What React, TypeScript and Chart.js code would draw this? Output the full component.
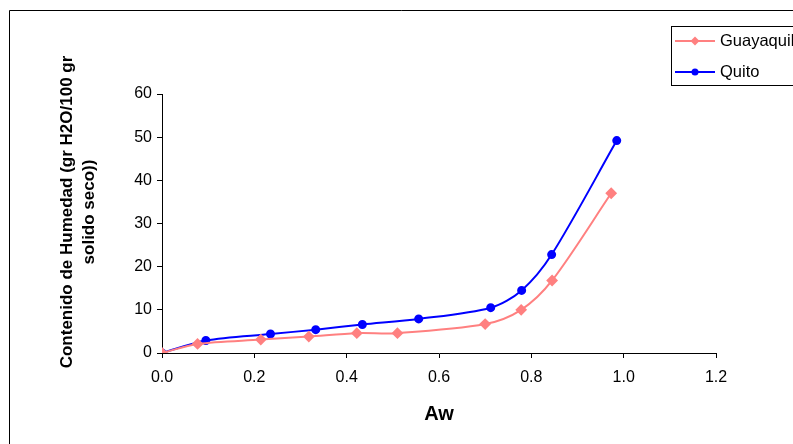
import React, { useEffect, useRef } from "react";
import { Chart, registerables } from "chart.js";

Chart.register(...registerables);

// ---- Data ----
const seriesNames = ["Guayaquil", "Quito"];
const guayaquilAw = [0, 0.077, 0.214, 0.318, 0.422, 0.51, 0.7, 0.778, 0.845, 0.973];
const guayaquilHum = [0, 2.1, 3.1, 3.8, 4.6, 4.6, 6.7, 10.0, 16.8, 37.0];
const quitoAw = [0, 0.095, 0.235, 0.333, 0.434, 0.556, 0.712, 0.779, 0.844, 0.985];
const quitoHum = [0, 2.9, 4.4, 5.4, 6.6, 7.9, 10.5, 14.5, 22.8, 49.2];
const xTickLabels = ["0.0", "0.2", "0.4", "0.6", "0.8", "1.0", "1.2"];
const yTickLabels = ["0", "10", "20", "30", "40", "50", "60"];
const xTitle = "Aw";
const yTitleLines = ["Contenido de Humedad (gr H2O/100 gr", "solido seco))"];

const PINK = "#FF8080";
const BLUE = "#0000FF";
const FONT = "'Liberation Sans', Arial, sans-serif";

const overlayPlugin = {
  id: "overlay",
  afterDraw(chart: any) {
    const ctx = chart.ctx;
    const area = chart.chartArea;
    ctx.save();
    // outer frame
    ctx.strokeStyle = "#000";
    ctx.lineWidth = 1;
    ctx.beginPath();
    ctx.moveTo(9.5, 444);
    ctx.lineTo(9.5, 10.5);
    ctx.lineTo(793, 10.5);
    ctx.stroke();

    // axis titles
    ctx.fillStyle = "#000";
    ctx.textAlign = "center";
    ctx.textBaseline = "middle";
    ctx.font = `bold 20px ${FONT}`;
    ctx.fillText(xTitle, (area.left + area.right) / 2, 414);

    ctx.save();
    ctx.translate(67, 212);
    ctx.rotate(-Math.PI / 2);
    ctx.font = `bold 17px ${FONT}`;
    ctx.fillText(yTitleLines[0], 0, 0);
    ctx.fillText(yTitleLines[1], 0, 22);
    ctx.restore();

    // legend
    ctx.strokeStyle = "#000";
    ctx.lineWidth = 1;
    ctx.strokeRect(671.5, 26.5, 200, 59);
    const rows = [41, 72];
    chart.data.datasets.forEach((ds: any, i: number) => {
      const y = rows[i];
      ctx.strokeStyle = ds.borderColor;
      ctx.lineWidth = 2;
      ctx.beginPath();
      ctx.moveTo(675, y);
      ctx.lineTo(715, y);
      ctx.stroke();
      ctx.fillStyle = ds.pointBackgroundColor;
      ctx.beginPath();
      if (ds.pointStyle === "rectRot") {
        const r = 4.5;
        ctx.moveTo(695, y - r);
        ctx.lineTo(695 + r, y);
        ctx.lineTo(695, y + r);
        ctx.lineTo(695 - r, y);
        ctx.closePath();
      } else {
        ctx.arc(695, y, 3.5, 0, Math.PI * 2);
      }
      ctx.fill();
      ctx.fillStyle = "#000";
      ctx.textAlign = "left";
      ctx.textBaseline = "middle";
      ctx.font = `16.5px ${FONT}`;
      ctx.fillText(ds.label, 720, y);
    });
    ctx.restore();
  },
};

export default function App() {
  const ref = useRef<HTMLCanvasElement | null>(null);

  useEffect(() => {
    if (!ref.current) return;
    const chart = new Chart(ref.current, {
      type: "line",
      data: {
        datasets: [
          {
            label: seriesNames[0],
            data: guayaquilAw.map((x, i) => ({ x, y: guayaquilHum[i] })),
            borderColor: PINK,
            backgroundColor: PINK,
            pointBackgroundColor: PINK,
            pointBorderColor: PINK,
            pointStyle: "rectRot",
            pointRadius: 4.5,
            borderWidth: 2,
            tension: 0.3,
          },
          {
            label: seriesNames[1],
            data: quitoAw.map((x, i) => ({ x, y: quitoHum[i] })),
            borderColor: BLUE,
            backgroundColor: BLUE,
            pointBackgroundColor: BLUE,
            pointBorderColor: BLUE,
            pointStyle: "circle",
            pointRadius: 3.5,
            borderWidth: 2,
            tension: 0.3,
          },
        ],
      },
      options: {
        responsive: false,
        animation: false,
        devicePixelRatio: 1,
        layout: { padding: { left: 0, top: 94, right: 77, bottom: 0 } },
        plugins: { legend: { display: false }, tooltip: { enabled: false } },
        scales: {
          x: {
            type: "linear",
            min: 0,
            max: 1.2,
            afterFit: (s: any) => {
              s.height = 91;
            },
            afterBuildTicks: (s: any) => {
              s.ticks = xTickLabels.map((t) => ({ value: parseFloat(t) }));
            },
            ticks: {
              color: "#000",
              font: { family: FONT, size: 16 },
              padding: 10,
              maxRotation: 0,
              callback: (_v: any, i: number) => xTickLabels[i],
            },
            grid: { drawOnChartArea: false, tickLength: 5, color: "#000" },
            border: { color: "#000", width: 1 },
          },
          y: {
            type: "linear",
            min: 0,
            max: 60,
            afterFit: (s: any) => {
              s.width = 162;
            },
            afterBuildTicks: (s: any) => {
              s.ticks = yTickLabels.map((t) => ({ value: parseFloat(t) }));
            },
            ticks: {
              color: "#000",
              font: { family: FONT, size: 16 },
              padding: 5,
              callback: (_v: any, i: number) => yTickLabels[i],
            },
            grid: { drawOnChartArea: false, tickLength: 5, color: "#000" },
            border: { color: "#000", width: 1 },
          },
        },
      },
      plugins: [overlayPlugin],
    });
    return () => chart.destroy();
  }, []);

  return (
    <div style={{ position: "fixed", left: 0, top: 0, width: 793, height: 444, background: "#fff" }}>
      <canvas ref={ref} width={793} height={444} style={{ width: 793, height: 444, display: "block" }} />
    </div>
  );
}
